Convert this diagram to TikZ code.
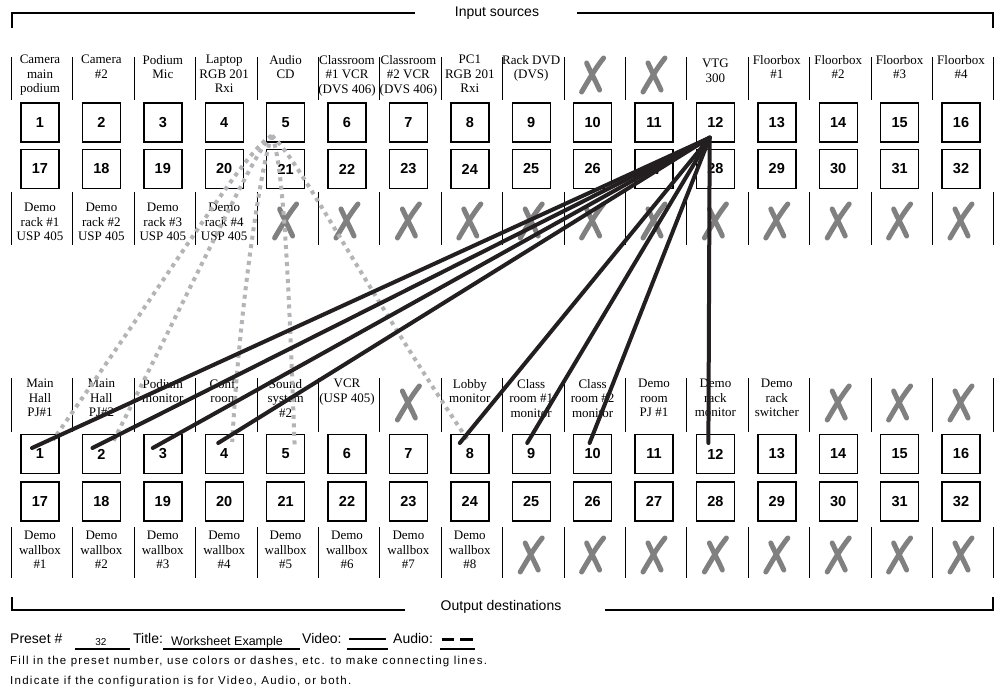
\documentclass[tikz,border=0pt]{standalone}
\usepackage{fontspec}
\setmainfont{Liberation Sans}
\newfontfamily\labfont{Liberation Serif}
\usetikzlibrary{calc}
\definecolor{xgray}{HTML}{808080}
\definecolor{dgray}{HTML}{B4B4B8}
\definecolor{lineblk}{HTML}{231F20}
\begin{document}
\begin{tikzpicture}[x=1pt,y=-1pt,
  numbox/.style={draw, line width=1.4pt, minimum width=38pt, minimum height=39pt, inner sep=0pt, font=\fontsize{14.5}{16}\selectfont\bfseries},
  lab/.style={anchor=north, align=center, inner sep=0pt, font=\labfont\fontsize{13}{14.5}\selectfont},
  sepline/.style={line width=0.9pt},
  xstroke/.style={xgray, line width=5pt, line cap=round},
  xm/.pic={\draw[xstroke] (-11,17) .. controls (-4,5) and (3,-7) .. (11,-17);
           \draw[xstroke] (-6,-12) .. controls (-2,-3) and (3,6) .. (7,15);},
  video/.style={lineblk, line width=4pt, line cap=round},
  audio/.style={dgray, line width=4pt, dash pattern=on 4pt off 4.5pt},
  bracket/.style={line width=2.8pt},
  head/.style={inner sep=0pt, font=\fontsize{14}{16}\selectfont},
  leg/.style={inner sep=0pt, anchor=base west, font=\fontsize{14}{16}\selectfont},
  fillin/.style={inner sep=0pt, anchor=base, font=\fontsize{12.5}{14}\selectfont},
  note/.style={inner sep=0pt, anchor=base west, font=\fontsize{11.5}{13}\selectfont\addfontfeature{LetterSpace=11}},
  uline/.style={line width=1.2pt}
]
\useasboundingbox (0,0) rectangle (994,692);
\fill[white] (0,0) rectangle (994,692);

% section brackets
\node[head] (insrc) at (497,13) {Input sources};
\draw[bracket] (12,28) -- (12,13) -- (415,13);
\draw[bracket] (577,13) -- (993,13) -- (993,28);
\node[head] (outdst) at (501,607) {Output destinations};
\draw[bracket] (12,597) -- (12,610) -- (405,610);
\draw[bracket] (605,610) -- (993,610) -- (993,597);

% separators
\foreach \k in {0,...,16} {
  \draw[sepline] ({11.5+61.4*\k},57) -- ({11.5+61.4*\k},100);
  \draw[sepline] ({11.5+61.4*\k},192) -- ({11.5+61.4*\k},245);
  \draw[sepline] ({11.5+61.4*\k},378) -- ({11.5+61.4*\k},432);
  \draw[sepline] ({11.5+61.4*\k},527) -- ({11.5+61.4*\k},578);
}

% boxes
\foreach \i in {1,...,16} {
  \pgfmathtruncatemacro\j{\i+16}
  \node[numbox] (i\i) at ({40+61.4*(\i-1)},122.5) {\i};
  \node[numbox] (i\j) at ({40+61.4*(\i-1)},169) {\j};
  \node[numbox] (o\i) at ({40+61.4*(\i-1)},454) {\i};
  \node[numbox] (o\j) at ({40+61.4*(\i-1)},501.5) {\j};
}

% input labels
\foreach \i/\t in {1/{Camera\\main\\podium},2/{Camera\\\#2},3/{Podium\\Mic},4/{Laptop\\RGB 201\\Rxi},5/{Audio\\CD},6/{Classroom\\\#1 VCR\\(DVS 406)},7/{Classroom\\\#2 VCR\\(DVS 406)},8/{PC1\\RGB 201\\Rxi},9/{Rack DVD\\(DVS)},13/{Floorbox\\\#1},14/{Floorbox\\\#2},15/{Floorbox\\\#3},16/{Floorbox\\\#4}}
  \node[lab] (li\i) at ({40+61.4*(\i-1)},55) {\t};
\node[lab] (li12) at ({40+61.4*11},59) {VTG\\300};
\foreach \i in {1,...,4} {
  \pgfmathtruncatemacro\j{\i+16}
  \node[lab] (li\j) at ({40+61.4*(\i-1)},203) {Demo\\rack \#\i\\USP 405};
}
% output labels
\foreach \i/\t in {1/{Main\\Hall\\PJ\#1},2/{Main\\Hall\\PJ\#2},3/{Podium\\monitor},4/{Conf.\\room},5/{Sound\\system\\\#2},6/{VCR\\(USP 405)},8/{Lobby\\monitor},9/{Class\\room \#1\\monitor},10/{Class\\room \#2\\monitor},11/{Demo\\room\\PJ \#1},12/{Demo\\rack\\monitor},13/{Demo\\rack\\switcher}}
  \node[lab] (lo\i) at ({40+61.4*(\i-1)},379) {\t};
\foreach \i in {1,...,8} {
  \pgfmathtruncatemacro\j{\i+16}
  \node[lab] (lo\j) at ({40+61.4*(\i-1)},531) {Demo\\wallbox\\\#\i};
}

% unused marks
\foreach \i in {10,11} \pic at ({40+61.4*(\i-1)},75) {xm};
\foreach \i in {5,...,16} \pic at ({40+61.4*(\i-1)},221) {xm};
\foreach \i in {7,14,15,16} \pic at ({40+61.4*(\i-1)},403) {xm};
\foreach \i in {9,...,16} \pic at ({40+61.4*(\i-1)},555) {xm};

% connection end points
\coordinate (asrc) at ($(i5.south west)+(6,-7)$);
\coordinate (vsrc) at ($(i12.south west)+(14,-5)$);
\coordinate (a1) at ($(o1.center)+(13,-14)$);
\coordinate (a2) at ($(o2.center)+(11,-11)$);
\coordinate (a4) at ($(o4.center)+(8,-12)$);
\coordinate (a5) at ($(o5.center)+(9,-9)$);
\coordinate (a8) at ($(o8.center)+(-2,-14)$);
\coordinate (v1) at ($(o1.center)+(-8,-6)$);
\coordinate (v2) at ($(o2.center)+(-9,-6)$);
\coordinate (v3) at ($(o3.center)+(-10,-6)$);
\coordinate (v4) at ($(o4.center)+(-6,-11)$);
\coordinate (v8) at ($(o8.center)+(-10,-11)$);
\coordinate (v9) at ($(o9.center)+(-4,-11)$);
\coordinate (v10) at ($(o10.center)+(-3,-11)$);
\coordinate (v12) at ($(o12.center)+(-7,-11)$);

% audio (dashed)
\draw[audio] (asrc) .. controls ($(asrc)+(-27,15)$) and (190,245) .. (a1);
\draw[audio] (asrc) .. controls ($(asrc)+(-17,15)$) and (215,240) .. (a2);
\draw[audio] (asrc) .. controls ($(asrc)+(-10,25)$) and (240,300) .. (a4);
\draw[audio] (asrc) .. controls ($(asrc)+(13,30)$) and (290,320) .. (a5);
\draw[audio] (asrc) .. controls ($(asrc)+(28,25)$) and (360,280) .. (a8);

% video (solid)
\foreach \d in {v1,v2,v3,v4,v8,v9,v10,v12}
  \draw[video] (vsrc) -- (\d);

% legend
\node[leg] (preset) at (10,643) {Preset \#};
\draw[uline] (75,649) -- (130,649);
\node[fillin, font=\fontsize{10}{12}\selectfont] (pnum) at (101,645) {32};
\node[leg] (ttl) at (133,643) {Title:};
\draw[uline] (163,649) -- (300,649);
\node[fillin] (tval) at (227,645) {Worksheet Example};
\node[leg] (vid) at (302,643) {Video:};
\draw[uline] (347,649) -- (388,649);
\draw[line width=2.5pt] (349,639) -- (386,639);
\node[leg] (aud) at (393,643) {Audio:};
\draw[uline] (440,649) -- (475,649);
\draw[line width=3pt] (442,639) -- (454,639) (460,639) -- (473,639);
\node[note] (n1) at (10,664) {Fill in the preset number, use colors or dashes, etc. to make connecting lines.};
\node[note] (n2) at (10,684) {Indicate if the configuration is for Video, Audio, or both.};
\end{tikzpicture}
\end{document}
